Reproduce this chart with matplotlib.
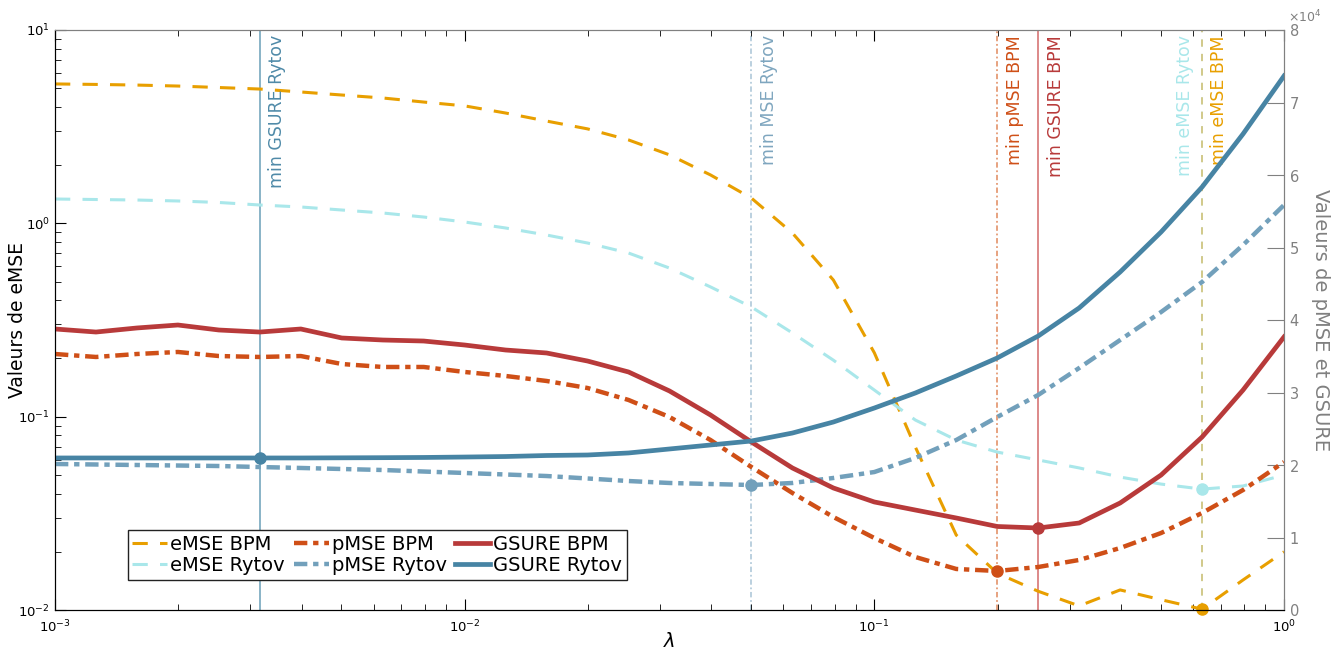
import matplotlib
matplotlib.use('Agg')
import matplotlib.pyplot as plt
from matplotlib.ticker import ScalarFormatter, LogLocator
import numpy as np

# grille de lambda (31 valeurs, 10 par decade)
lam = np.logspace(-3, 0, 31)

# erreurs sur l'axe gauche (log)
emse_bpm = [5.26, 5.23, 5.19, 5.13, 5.04, 4.95, 4.78, 4.61, 4.45, 4.24, 4.05,
            3.72, 3.38, 3.08, 2.70, 2.26, 1.78, 1.35, 0.891, 0.509, 0.214,
            0.0697, 0.0244, 0.0155, 0.0125, 0.0105, 0.0127, 0.0113, 0.0101, 0.0143, 0.0200]
emse_rytov = [1.336, 1.328, 1.320, 1.305, 1.282, 1.244, 1.215, 1.172, 1.131, 1.078, 1.016,
              0.946, 0.870, 0.791, 0.702, 0.587, 0.469, 0.369, 0.271, 0.196, 0.1373,
              0.0961, 0.0757, 0.0656, 0.0597, 0.0543, 0.0487, 0.0448, 0.0422, 0.0438, 0.0499]

# axe droit (x 1e4)
pmse_bpm = [3.531, 3.490, 3.531, 3.559, 3.503, 3.490, 3.503, 3.393, 3.352, 3.352, 3.283,
            3.228, 3.159, 3.062, 2.897, 2.662, 2.345, 1.972, 1.614, 1.283, 0.993,
            0.731, 0.566, 0.538, 0.593, 0.690, 0.855, 1.062, 1.338, 1.655, 2.041]
pmse_rytov = [2.014, 2.007, 2.000, 1.993, 1.986, 1.972, 1.959, 1.945, 1.931, 1.910, 1.890,
              1.869, 1.848, 1.814, 1.779, 1.752, 1.738, 1.724, 1.752, 1.821, 1.903,
              2.097, 2.345, 2.662, 2.966, 3.338, 3.724, 4.110, 4.524, 5.034, 5.586]
gsure_bpm = [3.876, 3.834, 3.890, 3.931, 3.862, 3.834, 3.876, 3.752, 3.724, 3.710, 3.655,
             3.586, 3.545, 3.434, 3.283, 3.021, 2.690, 2.317, 1.959, 1.683, 1.490,
             1.379, 1.269, 1.152, 1.131, 1.200, 1.476, 1.862, 2.386, 3.034, 3.766]
gsure_rytov = [2.097, 2.097, 2.097, 2.097, 2.097, 2.097, 2.097, 2.099, 2.101, 2.104, 2.110,
               2.117, 2.131, 2.138, 2.166, 2.221, 2.276, 2.331, 2.441, 2.593, 2.786,
               2.993, 3.228, 3.476, 3.779, 4.166, 4.662, 5.214, 5.834, 6.566, 7.366]

scale = 1e4
pmse_bpm = np.array(pmse_bpm) * scale
pmse_rytov = np.array(pmse_rytov) * scale
gsure_bpm = np.array(gsure_bpm) * scale
gsure_rytov = np.array(gsure_rytov) * scale

c_ebpm = '#e89f00'
c_eryt = '#a9e7ea'
c_pbpm = '#cf4f17'
c_pryt = '#72a0bb'
c_gbpm = '#b83a3a'
c_gryt = '#4784a4'
grey = '#808080'

fig = plt.figure(figsize=(13.42, 6.52), dpi=100)
ax = fig.add_axes([55/1342, 42/652, 1229/1342, 580/652])
ax2 = ax.twinx()

ax.set_xscale('log')
ax.set_yscale('log')
ax.set_xlim(1e-3, 1)
ax.set_ylim(1e-2, 1e1)
ax2.set_ylim(0, 8e4)

l1, = ax.plot(lam, emse_bpm, color=c_ebpm, lw=2.2, dashes=(5, 4), label='eMSE BPM')
l2, = ax.plot(lam, emse_rytov, color=c_eryt, lw=2.2, dashes=(5, 4), label='eMSE Rytov')
l3, = ax2.plot(lam, pmse_bpm, color=c_pbpm, lw=3.2, dashes=(3, 1.3, 1.2, 1.3), label='pMSE BPM')
l4, = ax2.plot(lam, pmse_rytov, color=c_pryt, lw=3.2, dashes=(3, 1.3, 1.2, 1.3), label='pMSE Rytov')
l5, = ax2.plot(lam, gsure_bpm, color=c_gbpm, lw=3.4, label='GSURE BPM')
l6, = ax2.plot(lam, gsure_rytov, color=c_gryt, lw=3.4, label='GSURE Rytov')

# minima
i_ebpm = int(np.argmin(emse_bpm))
i_eryt = int(np.argmin(emse_rytov))
i_pbpm = int(np.argmin(pmse_bpm))
i_pryt = int(np.argmin(pmse_rytov))
i_gbpm = int(np.argmin(gsure_bpm))
i_gryt = 5  # plateau, minimum retenu a 10^-2.5

ax.plot(lam[i_ebpm], emse_bpm[i_ebpm], 'o', color=c_ebpm, ms=8, clip_on=False)
ax.plot(lam[i_eryt], emse_rytov[i_eryt], 'o', color=c_eryt, ms=8)
ax2.plot(lam[i_pbpm], pmse_bpm[i_pbpm], 'o', color=c_pbpm, ms=8)
ax2.plot(lam[i_pryt], pmse_rytov[i_pryt], 'o', color=c_pryt, ms=8)
ax2.plot(lam[i_gbpm], gsure_bpm[i_gbpm], 'o', color=c_gbpm, ms=8)
ax2.plot(lam[i_gryt], gsure_rytov[i_gryt], 'o', color=c_gryt, ms=8)

# lignes verticales + etiquettes
vlines = [
    (lam[i_gryt], '#6a9fb8', '-', 'min GSURE Rytov', '#4f8aa8', 'left'),
    (lam[i_pryt], '#a9c4d6', (0, (3, 1.5, 1, 1.5)), 'min MSE Rytov', '#7fa6bf', 'left'),
    (lam[i_pbpm], '#e08a5e', (0, (3, 1.5, 1, 1.5)), 'min pMSE BPM', c_pbpm, 'left'),
    (lam[i_gbpm], '#d46a6a', '-', 'min GSURE BPM', c_gbpm, 'left'),
    (lam[i_eryt], '#a9e7ea', (0, (4, 4)), 'min eMSE Rytov', c_eryt, 'right'),
    (lam[i_ebpm], '#d9c070', (0, (4, 4)), 'min eMSE BPM', c_ebpm, 'left'),
]
for xv, lc, ls, txt, tc, side in vlines:
    ax.axvline(xv, color=lc, lw=1.3, ls=ls, alpha=0.85, zorder=1)
    dx = 6 if side == 'left' else -6
    ax.annotate(txt, xy=(xv, 0.991), xycoords=('data', 'axes fraction'),
                xytext=(dx, 0), textcoords='offset points', rotation=90,
                ha=side, va='top', color=tc, fontsize=12.5)

# axes style
ax.tick_params(axis='both', which='both', direction='in', top=True, labelsize=9.5)
ax.tick_params(axis='both', which='major', length=8)
ax.tick_params(axis='both', which='minor', length=4.5)
ax.tick_params(axis='x', which='major', pad=6)
ax.yaxis.set_minor_locator(LogLocator(base=10, subs=np.arange(2, 10)))
ax.xaxis.set_minor_locator(LogLocator(base=10, subs=np.arange(2, 10)))
ax.spines['top'].set_color(grey)
ax.spines['right'].set_color(grey)
ax2.spines['right'].set_color(grey)
ax2.spines['top'].set_color(grey)

fmt = ScalarFormatter(useMathText=True)
fmt.set_powerlimits((0, 0))
ax2.yaxis.set_major_formatter(fmt)
ax2.set_yticks(np.arange(0, 9) * 1e4)
ax2.tick_params(axis='y', direction='in', length=12, colors=grey, labelsize=10.5)
ax2.yaxis.get_offset_text().set_visible(False)
ax2.text(1.003, 1.008, r'$\times10^{4}$', transform=ax2.transAxes,
         ha='left', va='bottom', color=grey, fontsize=9)

ax.set_ylabel('Valeurs de eMSE', fontsize=13.5)
ax.yaxis.set_label_coords(-0.023, 0.5)
ax2.set_ylabel('Valeurs de pMSE et GSURE', fontsize=14, color=grey,
               rotation=270, labelpad=22)
ax.set_xlabel(r'$\lambda$', fontsize=14)
ax.xaxis.set_label_coords(0.5, -0.038)

handles = [l1, l2, l3, l4, l5, l6]
leg = ax2.legend(handles=handles, ncol=3, loc='lower left', bbox_to_anchor=(0.059, 0.052),
                 fontsize=14, frameon=True, fancybox=False, framealpha=1,
                 edgecolor='#222222', handlelength=1.8, handletextpad=0.15,
                 columnspacing=0.45, borderpad=0.25, labelspacing=0.1, borderaxespad=0)
leg.get_frame().set_linewidth(1.0)

fig.savefig('out.png', dpi=100)
